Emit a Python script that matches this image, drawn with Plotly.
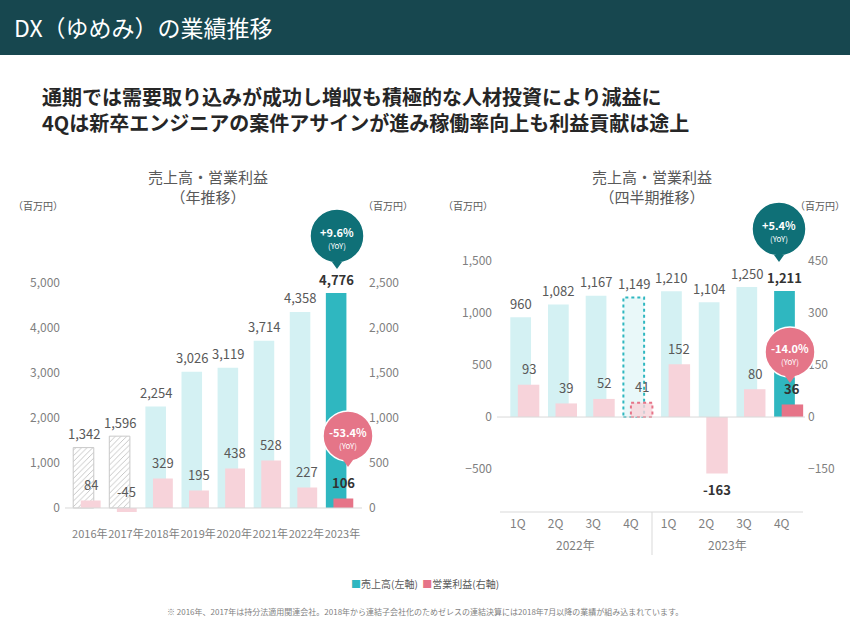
import plotly.graph_objects as go

W, H = 850, 619
FONT = "Noto Sans CJK JP"

# annual data
years = ["2016年", "2017年", "2018年", "2019年", "2020年", "2021年", "2022年", "2023年"]
sales_y = [1342, 1596, 2254, 3026, 3119, 3714, 4358, 4776]
profit_y = [84, -45, 329, 195, 438, 528, 227, 106]

# quarterly data
quarters = ["2022-1Q", "2022-2Q", "2022-3Q", "2022-4Q", "2023-1Q", "2023-2Q", "2023-3Q", "2023-4Q"]
q_labels = ["1Q", "2Q", "3Q", "4Q", "1Q", "2Q", "3Q", "4Q"]
sales_q = [960, 1082, 1167, 1149, 1210, 1104, 1250, 1211]
profit_q = [93, 39, 52, 41, 152, -163, 80, 36]

TEAL_L, TEAL = "#d4f1f3", "#2fb7c0"
PINK_L, PINK = "#f7d3da", "#e67488"
GREY = "#7f7f7f"


def px(x):
    return x / W


def py(y):
    return 1 - y / H


def lab(i, last, bold_extra=()):
    bold = i == last or i in bold_extra
    return dict(size=13, color="#333" if bold else "#595959", family=FONT, weight="bold" if bold else "normal")


fig = go.Figure()

# ---- left chart ----
fig.add_trace(go.Bar(x=years, y=sales_y, xaxis="x", yaxis="y", offset=-0.46, width=0.57,
                     marker=dict(color=["white"] * 2 + [TEAL_L] * 5 + [TEAL],
                                 line=dict(color=["#c8c8c8"] * 2 + ["rgba(0,0,0,0)"] * 6, width=1),
                                 pattern=dict(shape=["/", "/"] + [""] * 6, fgcolor="#e0e0e0", size=4, solidity=0.15))))
fig.add_trace(go.Bar(x=years, y=profit_y, xaxis="x", yaxis="y2", offset=-0.25, width=0.55,
                     marker=dict(color=[PINK_L] * 7 + [PINK], line=dict(width=0))))

# ---- right chart ----
fig.add_trace(go.Bar(x=quarters, y=sales_q, xaxis="x2", yaxis="y3", offset=-0.2, width=0.55,
                     marker=dict(color=[TEAL_L] * 3 + ["rgba(0,0,0,0)"] + [TEAL_L] * 3 + [TEAL], line=dict(width=0))))
fig.add_trace(go.Bar(x=quarters, y=profit_q, xaxis="x2", yaxis="y4", offset=0.0, width=0.57,
                     marker=dict(color=[PINK_L] * 3 + ["rgba(0,0,0,0)"] + [PINK_L] * 3 + [PINK], line=dict(width=0))))

ann = []
shapes = []
tick = dict(size=12, color=GREY, family=FONT)

# data labels
for i, v in enumerate(sales_y):
    ann.append(dict(x=i - 0.175, y=v, xref="x", yref="y", text=f"{v:,}", showarrow=False, yshift=14, font=lab(i, 7)))
for i, v in enumerate(profit_y):
    ann.append(dict(x=i + 0.025, y=max(v, 0), xref="x", yref="y2", text=f"{v:,}", showarrow=False, yshift=16,
                    font=lab(i, 7)))
for i, v in enumerate(sales_q):
    ann.append(dict(x=i + 0.075, y=v, xref="x2", yref="y3", text=f"{v:,}", showarrow=False, yshift=14, font=lab(i, 7)))
for i, v in enumerate(profit_q):
    ann.append(dict(x=i + 0.285, y=v, xref="x2", yref="y4", text=f"{v:,}", showarrow=False,
                    yshift=-16 if v < 0 else 16, font=lab(i, 7, (5,))))

# dotted outline for 2022 4Q
shapes.append(dict(type="rect", xref="x2", yref="y3", x0=3 - 0.2, x1=3 + 0.35, y0=0, y1=sales_q[3],
                   line=dict(color=TEAL, width=2, dash="dot"), fillcolor="rgba(212,241,243,0.5)", layer="below"))
shapes.append(dict(type="rect", xref="x2", yref="y4", x0=3, x1=3.57, y0=0, y1=profit_q[3],
                   line=dict(color=PINK, width=2, dash="dot"), fillcolor="rgba(247,211,218,0.8)"))

# header
shapes.append(dict(type="rect", xref="paper", yref="paper", x0=0, x1=1, y0=py(55), y1=1,
                   fillcolor="#17474f", line=dict(width=0), layer="below"))
ann.append(dict(x=px(12), y=py(27), xref="paper", yref="paper", xanchor="left", yanchor="middle", showarrow=False,
                text="DX（ゆめみ）の業績推移", font=dict(size=23, color="white", family=FONT)))
ann.append(dict(x=px(40), y=py(96), xref="paper", yref="paper", xanchor="left", yanchor="middle",
                showarrow=False, text="<b>通期では需要取り込みが成功し増収も積極的な人材投資により減益に</b>",
                font=dict(size=20, color="#262626", family=FONT)))
ann.append(dict(x=px(40), y=py(123), xref="paper", yref="paper", xanchor="left", yanchor="middle",
                showarrow=False, text="<b>4Qは新卒エンジニアの案件アサインが進み稼働率向上も利益貢献は途上</b>",
                font=dict(size=20, color="#262626", family=FONT)))

# titles and units
for cx, sub in [(208, "（年推移）"), (652, "（四半期推移）")]:
    ann.append(dict(x=px(cx), y=py(187), xref="paper", yref="paper", xanchor="center", yanchor="middle",
                    showarrow=False, text=f"売上高・営業利益<br>{sub}", font=dict(size=15, color="#595959", family=FONT)))
for ux in [38, 388, 468, 820]:
    ann.append(dict(x=px(ux), y=py(205), xref="paper", yref="paper", xanchor="center", yanchor="middle",
                    showarrow=False, text="（百万円）", font=dict(size=10, color="#595959", family=FONT)))

# zero / axis lines
shapes.append(dict(type="line", xref="paper", yref="y", x0=px(65), x1=px(362), y0=0, y1=0,
                   line=dict(color="#d9d9d9", width=1)))
shapes.append(dict(type="line", xref="paper", yref="y3", x0=px(497), x1=px(805), y0=0, y1=0,
                   line=dict(color="#d9d9d9", width=1)))
shapes.append(dict(type="line", xref="paper", yref="paper", x0=px(500), x1=px(803), y0=py(512), y1=py(512),
                   line=dict(color="#d9d9d9", width=1)))
shapes.append(dict(type="line", xref="paper", yref="paper", x0=px(652), x1=px(652), y0=py(512), y1=py(555),
                   line=dict(color="#d9d9d9", width=1)))
for yx, yl in [(575, "2022年"), (727, "2023年")]:
    ann.append(dict(x=px(yx), y=py(544), xref="paper", yref="paper", xanchor="center", yanchor="middle",
                    showarrow=False, text=yl, font=dict(size=12, color=GREY, family=FONT)))

# YoY bubbles
for cx, cy, r, col, txt in [(337, 236, 27, "#0f7077", "+9.6%"), (348, 436, 25, "#e57588", "-53.4%"),
                            (779, 229, 27, "#0f7077", "+5.4%"), (790, 352, 25, "#e57588", "-14.0%")]:
    shapes.append(dict(type="circle", xref="paper", yref="paper", x0=px(cx - r), x1=px(cx + r),
                       y0=py(cy + r), y1=py(cy - r), fillcolor=col, line=dict(color="white", width=1.5)))
    shapes.append(dict(type="path", xref="paper", yref="paper",
                       path=f"M {px(cx-5)},{py(cy+r-1)} L {px(cx+5)},{py(cy+r-1)} L {px(cx)},{py(cy+r+6)} Z",
                       fillcolor=col, line=dict(width=0)))
    ann.append(dict(x=px(cx), y=py(cy - 4), xref="paper", yref="paper", xanchor="center", yanchor="middle",
                    showarrow=False, text=f"<b>{txt}</b>", font=dict(size=11, color="white", family=FONT)))
    ann.append(dict(x=px(cx), y=py(cy + 9), xref="paper", yref="paper", xanchor="center", yanchor="middle",
                    showarrow=False, text="(YoY)", font=dict(size=8, color="white", family=FONT)))

# legend and footnote
ann.append(dict(x=0.5, y=py(583), xref="paper", yref="paper", yanchor="middle", showarrow=False,
                text=f"<span style='color:{TEAL}'>■</span>売上高(左軸)  <span style='color:{PINK}'>■</span>営業利益(右軸)",
                font=dict(size=10, color="#595959", family=FONT)))
ann.append(dict(x=0.5, y=py(611), xref="paper", yref="paper", yanchor="middle", showarrow=False,
                text="※ 2016年、2017年は持分法適用関連会社。2018年から連結子会社化のためゼレスの連結決算には2018年7月以降の業績が組み込まれています。",
                font=dict(size=8, color="#7f7f7f", family=FONT)))

ax_common = dict(showgrid=False, zeroline=False, showline=False, tickfont=tick, fixedrange=True)
fig.update_layout(
    width=W, height=H, margin=dict(l=0, r=0, t=0, b=0),
    paper_bgcolor="white", plot_bgcolor="white", showlegend=False, barmode="overlay",
    font=dict(family=FONT),
    xaxis=dict(domain=[px(65.5), px(360.5)], anchor="y", tickangle=0, tickfont=dict(size=11, color=GREY, family=FONT),
               showgrid=False, showline=False, ticks="", ticklabelstandoff=6, fixedrange=True),
    yaxis=dict(domain=[py(520), py(260)], range=[-267, 5511], tickvals=[0, 1000, 2000, 3000, 4000, 5000],
               tickformat=",", anchor="free", position=px(60), **ax_common),
    yaxis2=dict(overlaying="y", side="right", range=[-133.5, 2755.5], tickvals=[0, 500, 1000, 1500, 2000, 2500],
                tickformat=",", anchor="free", position=px(368), **ax_common),
    xaxis2=dict(domain=[px(499), px(804)], anchor="y3", tickvals=quarters, ticktext=q_labels, tickangle=0,
                tickfont=dict(size=12, color=GREY, family=FONT), showgrid=False, showline=False, ticks="",
                ticklabelstandoff=10, fixedrange=True),
    yaxis3=dict(domain=[py(505), py(245)], range=[-846, 1654], tickvals=[-500, 0, 500, 1000, 1500],
                tickformat=",", anchor="free", position=px(492), **ax_common),
    yaxis4=dict(overlaying="y3", side="right", range=[-254, 496], tickvals=[-150, 0, 150, 300, 450],
                anchor="free", position=px(807), **ax_common),
    annotations=ann, shapes=shapes,
)

fig.write_html("out.html", config={"displayModeBar": False},
               post_script="document.body.style.margin='0';window.dispatchEvent(new Event('resize'));")
